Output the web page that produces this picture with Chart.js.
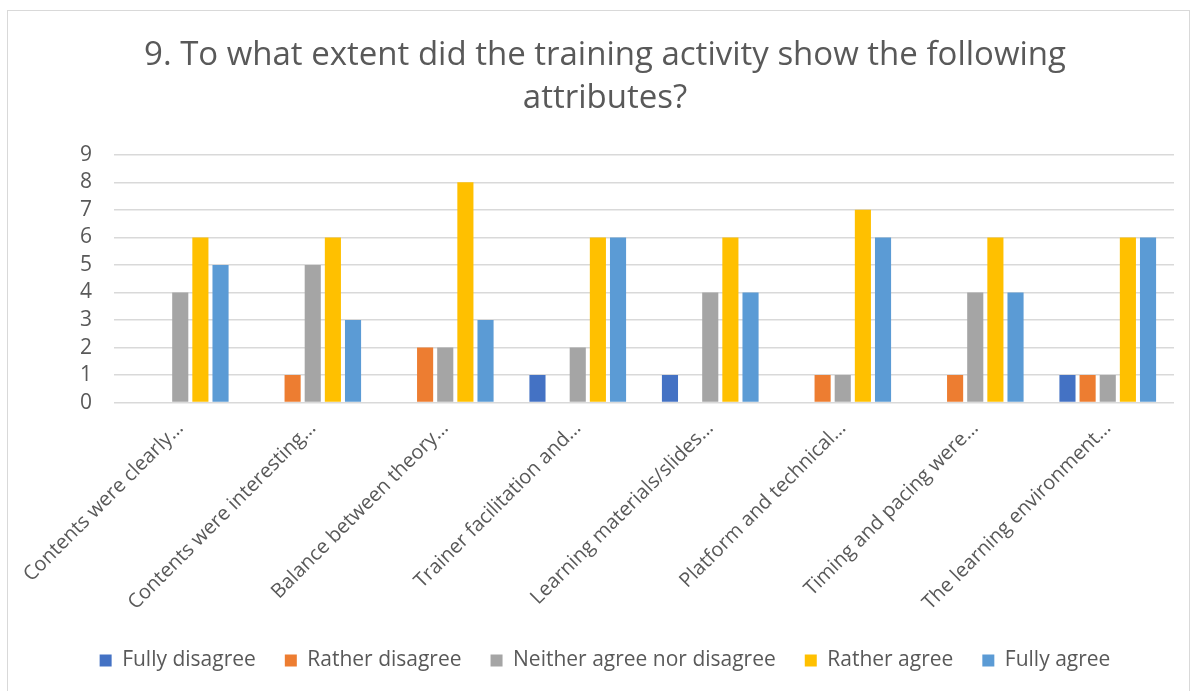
<!DOCTYPE html>
<html>
<head>
<meta charset="utf-8">
<script src="https://cdn.jsdelivr.net/npm/chart.js@4"></script>
<style>
  html, body { margin: 0; padding: 0; background: #fff; }
  #frame {
    position: absolute; left: 7px; top: 10px; width: 1183px; height: 684px;
    border: 1.5px solid #d9d9d9; box-sizing: border-box;
  }
  #wrap { position: absolute; left: 0; top: 0; width: 1194px; height: 691px; }
</style>
</head>
<body>
<div id="frame"></div>
<div id="wrap"><canvas id="chart"></canvas></div>
<script>
// categories and series
const categories = [
  "Contents were clearly…",
  "Contents were interesting…",
  "Balance between theory…",
  "Trainer facilitation and…",
  "Learning materials/slides…",
  "Platform and technical…",
  "Timing and pacing were…",
  "The learning environment…"
];
const fullyDisagree = [0, 0, 0, 1, 1, 0, 0, 1];
const ratherDisagree = [0, 1, 2, 0, 0, 1, 1, 1];
const neither = [4, 5, 2, 2, 4, 1, 4, 1];
const ratherAgree = [6, 6, 8, 6, 6, 7, 6, 6];
const fullyAgree = [5, 3, 3, 6, 4, 6, 4, 6];
const yTicks = [0, 1, 2, 3, 4, 5, 6, 7, 8, 9];

const fontFamily = "'Open Sans', Lato, sans-serif";
const textColor = "#595959";

function series(label, data, color) {
  return {
    label: label,
    data: data,
    backgroundColor: color,
    borderWidth: 0,
    barPercentage: 0.8,
    categoryPercentage: 0.76
  };
}

const ctx = document.getElementById("chart").getContext("2d");
const chart = new Chart(ctx, {
  type: "bar",
  data: {
    labels: categories,
    datasets: [
      series("Fully disagree", fullyDisagree, "#4472c4"),
      series("Rather disagree", ratherDisagree, "#ed7d31"),
      series("Neither agree nor disagree", neither, "#a5a5a5"),
      series("Rather agree", ratherAgree, "#ffc000"),
      series("Fully agree", fullyAgree, "#5b9bd5")
    ]
  },
  options: {
    responsive: true,
    maintainAspectRatio: false,
    animation: false,
    layout: { padding: { left: 36, right: 20, top: 30, bottom: 10 } },
    plugins: {
      title: {
        display: true,
        text: ["9. To what extent did the training activity show the following", "attributes?"],
        color: textColor,
        font: { family: fontFamily, size: 33, weight: "normal", lineHeight: 1.3 },
        padding: { top: 4, bottom: 35 }
      },
      legend: {
        position: "bottom",
        labels: {
          color: textColor,
          font: { family: fontFamily, size: 21 },
          boxWidth: 12,
          boxHeight: 12,
          padding: 29
        }
      },
      tooltip: { enabled: false }
    },
    scales: {
      x: {
        grid: { display: false },
        border: { display: false },
        ticks: {
          color: textColor,
          font: { family: fontFamily, size: 20 },
          maxRotation: 45,
          minRotation: 45,
          autoSkip: false,
          padding: 6
        }
      },
      y: {
        min: 0,
        max: 9,
        afterBuildTicks: function (axis) {
          axis.ticks = yTicks.map(function (v) { return { value: v }; });
        },
        afterFit: function (axis) {
          axis.width = 78;
        },
        grid: { color: "#d9d9d9", lineWidth: 1.5, drawTicks: false },
        border: { display: false },
        ticks: {
          color: textColor,
          font: { family: fontFamily, size: 21 },
          autoSkip: false,
          padding: 22
        }
      }
    }
  }
});
</script>
</body>
</html>
